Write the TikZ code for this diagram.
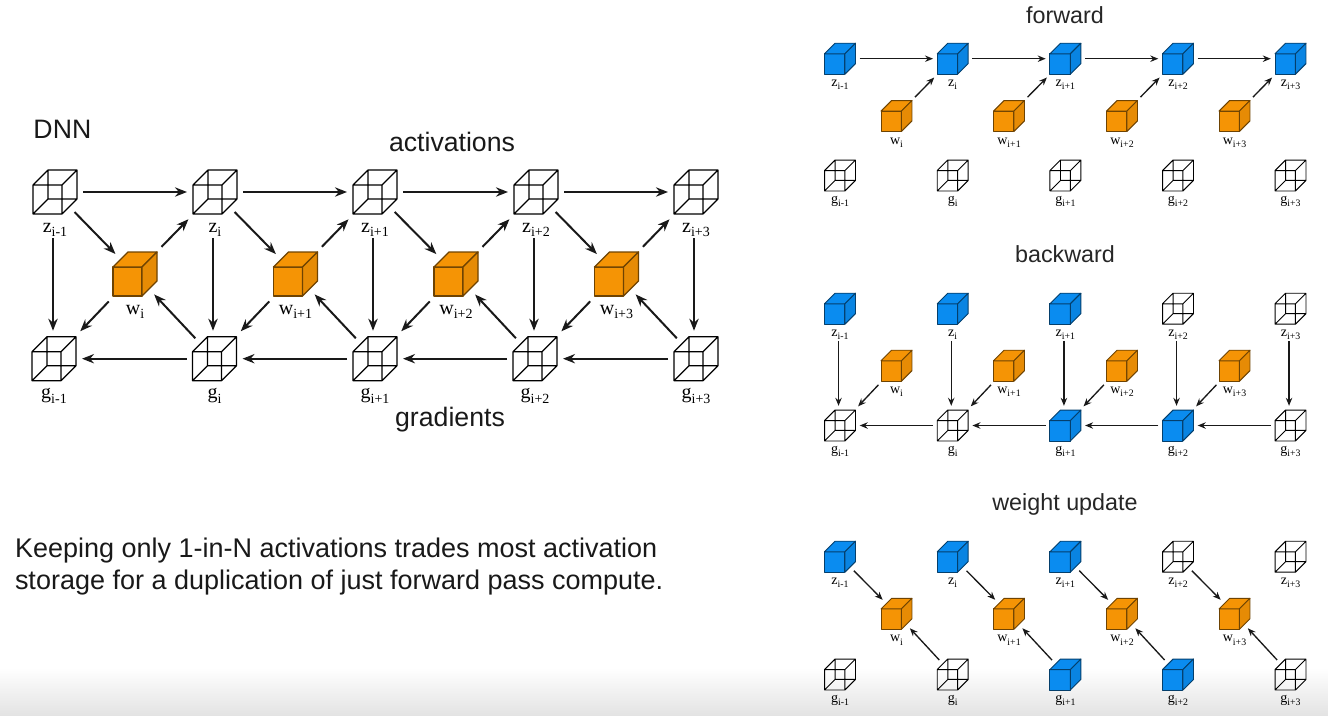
\documentclass[tikz,border=0pt]{standalone}
\usepackage{fontspec}
\setmainfont{Liberation Sans}
\newfontfamily\labelfont{Liberation Serif}
\usetikzlibrary{arrows.meta}

\definecolor{cubeorange}{RGB}{245,148,5}
\definecolor{cubeblue}{RGB}{10,140,240}

\tikzset{every picture/.style={line width=0.75pt}}
\tikzset{
  hub/.style={circle,inner sep=0pt,outer sep=0pt},
  cubetag/.style={anchor=base,inner sep=0.75pt,font=\labelfont\fontsize{15}{15}\selectfont},
  caption/.style={inner sep=0.75pt,font=\fontsize{20}{24}\selectfont,text=black!90},
  longcaption/.style={inner sep=0.75pt,font=\fontsize{20.25}{24}\selectfont,text=black!90},
  paneltitle/.style={inner sep=0.75pt,font=\fontsize{17.5}{20}\selectfont,text=black!85},
  bigarrow/.style={-{Stealth[length=9pt,width=7pt]},line width=1.5pt,black!90},
  smallarrow/.style={-{Stealth[length=6pt,width=4.8pt]},line width=1pt,black!90},
  bigtrim/.style={shorten <=7.5pt,shorten >=7.5pt},
  smalltrim/.style={shorten <=5pt,shorten >=5pt},
  bigdown/.style={bigarrow,transform canvas={xshift=-1.5pt}},
  smalldown/.style={smallarrow,transform canvas={xshift=-1.1pt}},
}

% [scale]{name}{x}{y}{label}
\newcommand{\wirecube}[5][1]{%
  \begin{scope}[shift={(#3,#4)},scale=#1]
    \draw[line width=#1*1pt,line join=round] (-22,-7) rectangle (7,22) (-7,-22) rectangle (22,7)
      (-22,-7) -- (-7,-22) (7,-7) -- (22,-22) (7,22) -- (22,7) (-22,22) -- (-7,7);
    \node[hub,minimum size=#1*42pt] (#2) at (0,0) {};
    \node[cubetag,scale=#1] (#2l) at (0,40) {#5};
  \end{scope}}
% [scale]{name}{x}{y}{colour}{label}
\newcommand{\solidcube}[6][1]{%
  \begin{scope}[shift={(#3,#4)},scale=#1]
    \draw[line width=#1*1pt,line join=round,draw=#5!45!black,fill=#5] (-22,-7) rectangle (7,22);
    \draw[line width=#1*1pt,line join=round,draw=#5!45!black,fill=#5] (-22,-7) -- (-7,-22) -- (22,-22) -- (7,-7) -- cycle;
    \draw[line width=#1*1pt,line join=round,draw=#5!45!black,fill=#5!94!black] (7,-7) -- (22,-22) -- (22,7) -- (7,22) -- cycle;
    \node[hub,minimum size=#1*42pt] (#2) at (0,0) {};
    \node[cubetag,scale=#1] (#2l) at (0,40) {#6};
  \end{scope}}
\newcommand{\tag}[2]{#1\lower.22em\hbox{\fontsize{10.5}{10.5}\selectfont #2}}

\begin{document}
\begin{tikzpicture}[x=0.75pt,y=0.75pt,yscale=-1,xscale=1]
\useasboundingbox (0,0) rectangle (1328,715);

%Shape: bottom fade
\fill[top color=white,bottom color=black!11,draw=none] (0,668) rectangle (1328,715);

% Text Node
\node[caption,anchor=west] (dnn) at (32,129) {DNN};
\node[caption] (activations) at (452,142) {activations};
\node[caption] (gradients) at (450,420) {gradients};
\node[longcaption,anchor=west,align=left] (note) at (13.5,567) {Keeping only 1-in-N activations trades most activation\\storage for a duplication of just forward pass compute.};
\node[paneltitle] (forward) at (1065,15) {forward};
\node[paneltitle] (backward) at (1065,254) {backward};
\node[paneltitle] (update) at (1065,504) {weight update};

%Big diagram
\wirecube{z1}{55}{192}{\tag{z}{i-1}}
\wirecube{z2}{215}{192}{\tag{z}{i}}
\wirecube{z3}{375}{192}{\tag{z}{i+1}}
\wirecube{z4}{536}{192}{\tag{z}{i+2}}
\wirecube{z5}{696}{192}{\tag{z}{i+3}}
\solidcube{w1}{135}{274}{cubeorange}{\tag{w}{i}}
\solidcube{w2}{295.5}{274}{cubeorange}{\tag{w}{i+1}}
\solidcube{w3}{456}{274}{cubeorange}{\tag{w}{i+2}}
\solidcube{w4}{616.5}{274}{cubeorange}{\tag{w}{i+3}}
\wirecube{g1}{54}{358.7}{\tag{g}{i-1}}
\wirecube{g2}{214.5}{358.7}{\tag{g}{i}}
\wirecube{g3}{375}{358.7}{\tag{g}{i+1}}
\wirecube{g4}{535}{358.7}{\tag{g}{i+2}}
\wirecube{g5}{696}{358.7}{\tag{g}{i+3}}

\draw[bigarrow] (z1) -- (z2);
\draw[bigarrow] (z2) -- (z3);
\draw[bigarrow] (z3) -- (z4);
\draw[bigarrow] (z4) -- (z5);
\draw[bigarrow] (g5) -- (g4);
\draw[bigarrow] (g4) -- (g3);
\draw[bigarrow] (g3) -- (g2);
\draw[bigarrow] (g2) -- (g1);
\draw[bigarrow] (z1) -- (w1);
\draw[bigarrow] (z2) -- (w2);
\draw[bigarrow] (z3) -- (w3);
\draw[bigarrow] (z4) -- (w4);
\draw[bigarrow,bigtrim] (w1) -- (z2);
\draw[bigarrow,bigtrim] (w2) -- (z3);
\draw[bigarrow,bigtrim] (w3) -- (z4);
\draw[bigarrow,bigtrim] (w4) -- (z5);
\draw[bigarrow,bigtrim] (w1) -- (g1);
\draw[bigarrow,bigtrim] (w2) -- (g2);
\draw[bigarrow,bigtrim] (w3) -- (g3);
\draw[bigarrow,bigtrim] (w4) -- (g4);
\draw[bigarrow] (g2) -- (w1);
\draw[bigarrow] (g3) -- (w2);
\draw[bigarrow] (g4) -- (w3);
\draw[bigarrow] (g5) -- (w4);
\draw[bigdown] (z1l.south) -- (z1l.south |- g1.north);
\draw[bigdown] (z2l.south) -- (z2l.south |- g2.north);
\draw[bigdown] (z3l.south) -- (z3l.south |- g3.north);
\draw[bigdown] (z4l.south) -- (z4l.south |- g4.north);
\draw[bigdown] (z5l.south) -- (z5l.south |- g5.north);

%Panel: forward
\solidcube[.703]{fz1}{840}{58.7}{cubeblue}{\tag{z}{i-1}}
\solidcube[.703]{fz2}{952.7}{58.7}{cubeblue}{\tag{z}{i}}
\solidcube[.703]{fz3}{1065.4}{58.7}{cubeblue}{\tag{z}{i+1}}
\solidcube[.703]{fz4}{1178}{58.7}{cubeblue}{\tag{z}{i+2}}
\solidcube[.703]{fz5}{1290.5}{58.7}{cubeblue}{\tag{z}{i+3}}
\solidcube[.703]{fw1}{896.5}{116}{cubeorange}{\tag{w}{i}}
\solidcube[.703]{fw2}{1009}{116}{cubeorange}{\tag{w}{i+1}}
\solidcube[.703]{fw3}{1122}{116}{cubeorange}{\tag{w}{i+2}}
\solidcube[.703]{fw4}{1234.5}{116}{cubeorange}{\tag{w}{i+3}}
\wirecube[.703]{fg1}{840}{175.5}{\tag{g}{i-1}}
\wirecube[.703]{fg2}{952.7}{175.5}{\tag{g}{i}}
\wirecube[.703]{fg3}{1065.4}{175.5}{\tag{g}{i+1}}
\wirecube[.703]{fg4}{1178}{175.5}{\tag{g}{i+2}}
\wirecube[.703]{fg5}{1290.5}{175.5}{\tag{g}{i+3}}

\draw[smallarrow] (fz1) -- (fz2);
\draw[smallarrow] (fz2) -- (fz3);
\draw[smallarrow] (fz3) -- (fz4);
\draw[smallarrow] (fz4) -- (fz5);
\draw[smallarrow,smalltrim] (fw1) -- (fz2);
\draw[smallarrow,smalltrim] (fw2) -- (fz3);
\draw[smallarrow,smalltrim] (fw3) -- (fz4);
\draw[smallarrow,smalltrim] (fw4) -- (fz5);

%Panel: backward
\solidcube[.703]{bz1}{840}{308.7}{cubeblue}{\tag{z}{i-1}}
\solidcube[.703]{bz2}{952.7}{308.7}{cubeblue}{\tag{z}{i}}
\solidcube[.703]{bz3}{1065.4}{308.7}{cubeblue}{\tag{z}{i+1}}
\wirecube[.703]{bz4}{1178}{308.7}{\tag{z}{i+2}}
\wirecube[.703]{bz5}{1290.5}{308.7}{\tag{z}{i+3}}
\solidcube[.703]{bw1}{896.5}{365.7}{cubeorange}{\tag{w}{i}}
\solidcube[.703]{bw2}{1009}{365.7}{cubeorange}{\tag{w}{i+1}}
\solidcube[.703]{bw3}{1122}{365.7}{cubeorange}{\tag{w}{i+2}}
\solidcube[.703]{bw4}{1234.5}{365.7}{cubeorange}{\tag{w}{i+3}}
\wirecube[.703]{bg1}{840}{425.5}{\tag{g}{i-1}}
\wirecube[.703]{bg2}{952.7}{425.5}{\tag{g}{i}}
\solidcube[.703]{bg3}{1065.4}{425.5}{cubeblue}{\tag{g}{i+1}}
\solidcube[.703]{bg4}{1178}{425.5}{cubeblue}{\tag{g}{i+2}}
\wirecube[.703]{bg5}{1290.5}{425.5}{\tag{g}{i+3}}

\draw[smalldown] (bz1l.south) -- (bz1l.south |- bg1.north);
\draw[smalldown] (bz2l.south) -- (bz2l.south |- bg2.north);
\draw[smalldown] (bz3l.south) -- (bz3l.south |- bg3.north);
\draw[smalldown] (bz4l.south) -- (bz4l.south |- bg4.north);
\draw[smalldown] (bz5l.south) -- (bz5l.south |- bg5.north);
\draw[smallarrow,smalltrim] (bw1) -- (bg1);
\draw[smallarrow,smalltrim] (bw2) -- (bg2);
\draw[smallarrow,smalltrim] (bw3) -- (bg3);
\draw[smallarrow,smalltrim] (bw4) -- (bg4);
\draw[smallarrow] (bg5) -- (bg4);
\draw[smallarrow] (bg4) -- (bg3);
\draw[smallarrow] (bg3) -- (bg2);
\draw[smallarrow] (bg2) -- (bg1);

%Panel: weight update
\solidcube[.703]{uz1}{840}{556.7}{cubeblue}{\tag{z}{i-1}}
\solidcube[.703]{uz2}{952.7}{556.7}{cubeblue}{\tag{z}{i}}
\solidcube[.703]{uz3}{1065.4}{556.7}{cubeblue}{\tag{z}{i+1}}
\wirecube[.703]{uz4}{1178}{556.7}{\tag{z}{i+2}}
\wirecube[.703]{uz5}{1290.5}{556.7}{\tag{z}{i+3}}
\solidcube[.703]{uw1}{896.5}{613.8}{cubeorange}{\tag{w}{i}}
\solidcube[.703]{uw2}{1009}{613.8}{cubeorange}{\tag{w}{i+1}}
\solidcube[.703]{uw3}{1122}{613.8}{cubeorange}{\tag{w}{i+2}}
\solidcube[.703]{uw4}{1234.5}{613.8}{cubeorange}{\tag{w}{i+3}}
\wirecube[.703]{ug1}{840}{674.5}{\tag{g}{i-1}}
\wirecube[.703]{ug2}{952.7}{674.5}{\tag{g}{i}}
\solidcube[.703]{ug3}{1065.4}{674.5}{cubeblue}{\tag{g}{i+1}}
\solidcube[.703]{ug4}{1178}{674.5}{cubeblue}{\tag{g}{i+2}}
\wirecube[.703]{ug5}{1290.5}{674.5}{\tag{g}{i+3}}

\draw[smallarrow] (uz1) -- (uw1);
\draw[smallarrow] (uz2) -- (uw2);
\draw[smallarrow] (uz3) -- (uw3);
\draw[smallarrow] (uz4) -- (uw4);
\draw[smallarrow] (ug2) -- (uw1);
\draw[smallarrow] (ug3) -- (uw2);
\draw[smallarrow] (ug4) -- (uw3);
\draw[smallarrow] (ug5) -- (uw4);

\end{tikzpicture}
\end{document}
